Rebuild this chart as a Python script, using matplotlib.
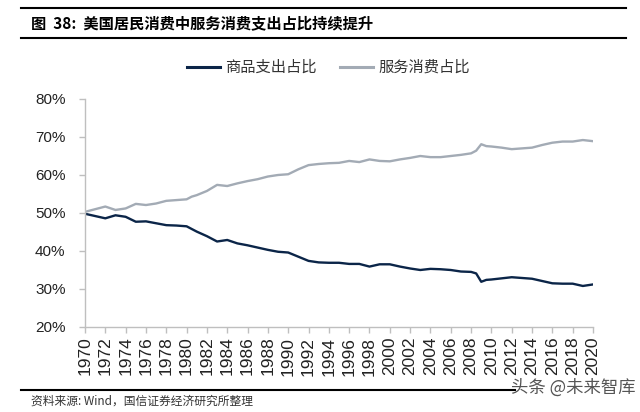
import matplotlib.pyplot as plt
from matplotlib.lines import Line2D

plt.rcParams['font.family'] = ['Liberation Sans', 'Noto Sans CJK SC', 'DejaVu Sans']

# 数据：年份及两条占比序列（%）
years = [1970, 1971, 1972, 1973, 1974, 1975, 1976, 1977, 1978, 1979, 1980, 1980.5,
         1981, 1982, 1983, 1984, 1985, 1986, 1987, 1988, 1989, 1990, 1991, 1992,
         1993, 1994, 1995, 1996, 1997, 1998, 1999, 2000, 2001, 2002, 2003, 2004,
         2005, 2006, 2007, 2008, 2008.5, 2009, 2009.5, 2010, 2011, 2012, 2013,
         2014, 2015, 2016, 2017, 2018, 2019, 2020]
goods = [49.8, 49.2, 48.6, 49.4, 49.0, 47.7, 47.8, 47.3, 46.8, 46.7, 46.5, 45.8,
         45.1, 43.9, 42.5, 42.9, 42.0, 41.5, 40.9, 40.3, 39.8, 39.6, 38.5, 37.4,
         37.0, 36.9, 36.9, 36.6, 36.6, 35.9, 36.5, 36.5, 35.9, 35.4, 35.0, 35.3,
         35.2, 35.0, 34.6, 34.5, 34.1, 31.9, 32.4, 32.5, 32.8, 33.1, 32.9,
         32.7, 32.1, 31.5, 31.4, 31.4, 30.8, 31.2]
services = [50.3, 51.0, 51.7, 50.8, 51.2, 52.4, 52.1, 52.5, 53.2, 53.4, 53.6, 54.3,
            54.7, 55.8, 57.4, 57.1, 57.8, 58.4, 58.9, 59.6, 60.0, 60.2, 61.5, 62.6,
            62.9, 63.1, 63.2, 63.7, 63.4, 64.1, 63.7, 63.6, 64.1, 64.5, 65.0, 64.7,
            64.7, 65.0, 65.3, 65.7, 66.4, 68.1, 67.6, 67.5, 67.2, 66.8, 67.0,
            67.2, 67.9, 68.5, 68.8, 68.8, 69.2, 68.9]
tick_years = list(range(1970, 2021, 2))
y_ticks = [20, 30, 40, 50, 60, 70, 80]

navy = '#0b2548'
grey = '#a3abb5'
axis_c = '#bfbfbf'

fig = plt.figure(figsize=(6.4, 4.12), dpi=100)
ax = fig.add_axes([85 / 640, 1 - 327 / 412, 508 / 640, 228 / 412])

ax.plot(years, goods, color=navy, lw=1.7, solid_joinstyle='round')
ax.plot(years, services, color=grey, lw=1.7, solid_joinstyle='round')

ax.set_xlim(1970, 2020)
ax.set_ylim(20, 80)
ax.set_xticks(tick_years)
ax.set_xticklabels([str(y) for y in tick_years], rotation=90, fontsize=12.5, color='#222222')
ax.set_yticks(y_ticks)
ax.set_yticklabels(['%d%%' % v for v in y_ticks], fontsize=11, color='#222222')
ax.tick_params(axis='both', direction='out', length=4, color=axis_c, width=1, pad=3)
ax.tick_params(axis='y', pad=10)
for s in ['top', 'right']:
    ax.spines[s].set_visible(False)
for s in ['left', 'bottom']:
    ax.spines[s].set_color(axis_c)
    ax.spines[s].set_linewidth(1)

# 标题与上下分隔线
fig.add_artist(Line2D([21 / 640, 626 / 640], [1 - 8 / 412] * 2, color='black', lw=1.5))
fig.add_artist(Line2D([21 / 640, 626 / 640], [1 - 38 / 412] * 2, color='black', lw=1.5))
fig.text(31 / 640, 1 - 23 / 412, '图  38:  美国居民消费中服务消费支出占比持续提升',
         fontsize=11, fontweight='bold', va='center', ha='left',
         family=['Noto Sans CJK SC', 'DejaVu Sans'])

# 图例
leg_y = 1 - 67 / 412
fig.add_artist(Line2D([187 / 640, 220 / 640], [leg_y] * 2, color=navy, lw=2.2))
fig.text(225 / 640, leg_y, '商品支出占比', fontsize=11, va='center', ha='left',
         color='#333333', family=['Noto Sans CJK SC'])
fig.add_artist(Line2D([340 / 640, 373 / 640], [leg_y] * 2, color=grey, lw=2.2))
fig.text(378 / 640, leg_y, '服务消费占比', fontsize=11, va='center', ha='left',
         color='#333333', family=['Noto Sans CJK SC'])

# 底部来源
fig.add_artist(Line2D([21 / 640, 515 / 640], [1 - 390 / 412] * 2, color='black', lw=1.5))
fig.text(31 / 640, 1 - 401 / 412, '资料来源: Wind，国信证券经济研究所整理', fontsize=8.5,
         va='center', ha='left', color='#333333',
         family=['Noto Sans CJK SC', 'DejaVu Sans'])
fig.text(636 / 640, 1 - 388 / 412, '头条 @未来智库', fontsize=12.5, va='center', ha='right',
         color='#555555', family=['Noto Sans CJK SC', 'DejaVu Sans'])

fig.savefig('out.png', dpi=100)
